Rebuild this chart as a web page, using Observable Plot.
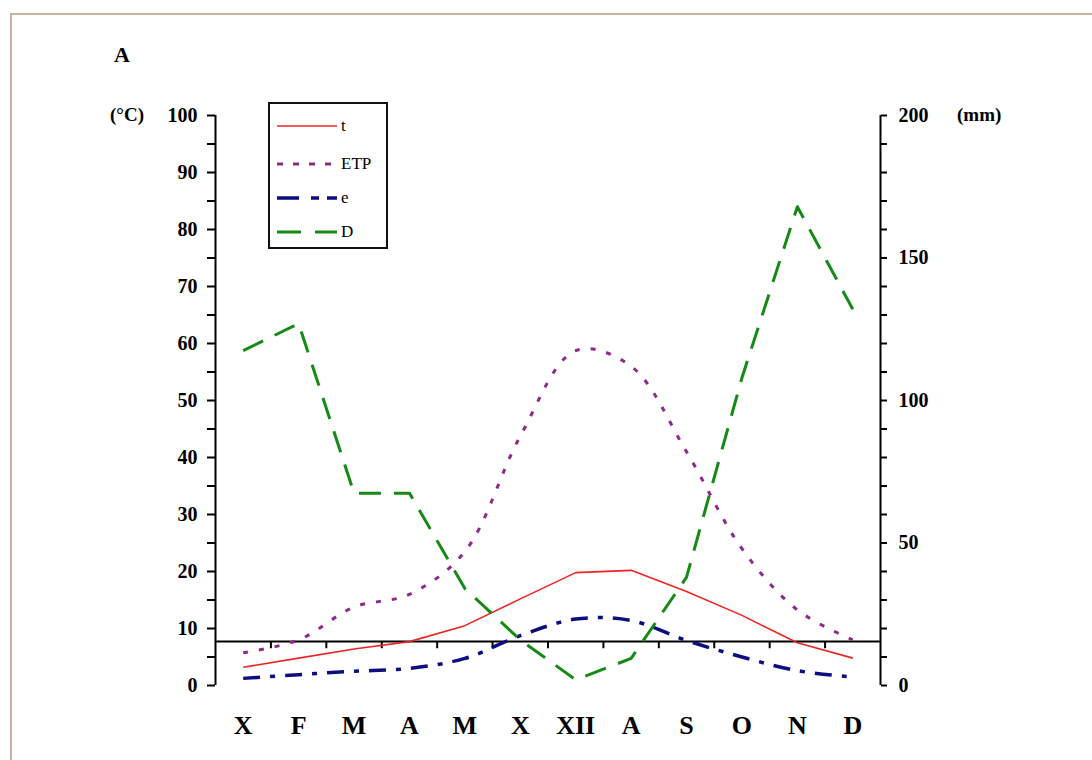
<!DOCTYPE html>
<html>
<head>
<meta charset="utf-8">
<script src="https://cdn.jsdelivr.net/npm/d3@7"></script>
<script src="https://cdn.jsdelivr.net/npm/@observablehq/plot@0.6"></script>
<style>
  body { margin: 0; background: #fff; }
  #wrap { position: relative; width: 1092px; height: 760px; overflow: hidden; background: #fff;
          font-family: "Liberation Serif", "DejaVu Serif", serif; }
  #frame { position: absolute; left: 10px; top: 13px; width: 1300px; height: 900px;
           border-left: 2px solid #c9b3a5; border-top: 2px solid #c9b3a5; }
  #chart { position: absolute; left: 0; top: 0; }
  .lbl { position: absolute; font-weight: bold; color: #000; white-space: nowrap; line-height: 1; }
  #legend { position: absolute; left: 268px; top: 102px; width: 116px; height: 143px;
            border: 2px solid #111; background: #fff; }
  .entry { position: absolute; left: 5px; height: 20px; }
  .entry svg { position: absolute; left: 0; top: 0; }
  .entry span { position: absolute; left: 66px; top: 0; font-size: 17px; line-height: 20px; color: #000; }
</style>
</head>
<body>
<div id="wrap">
  <div id="frame"></div>
  <div id="chart"></div>
  <div class="lbl" style="left:114px;top:44px;font-size:22px;">A</div>
  <div class="lbl" style="left:110px;top:105px;font-size:19px;">(°C)</div>
  <div class="lbl" style="left:957px;top:105px;font-size:19px;">(mm)</div>
  <div id="legend"></div>
</div>
<script>
// ---- data ----
const months = ["X", "F", "M", "A", "M", "X", "XII", "A", "S", "O", "N", "D"];
const tValues   = [3.2, 4.8, 6.4, 7.7, 10.5, 15.2, 19.8, 20.2, 16.5, 12.3, 7.5, 4.8];      // °C
const etpValues = [11.5, 16, 27.5, 32, 47, 87.5, 117.5, 112, 82, 48, 26.5, 16];           // mm
const eValues   = [2.5, 3.8, 5, 6, 9.5, 17.5, 23.3, 22.8, 15.8, 10, 5.2, 3];              // mm
const dValues   = [117.5, 127, 67.5, 67.5, 34, 16, 2, 9.5, 38, 108, 168, 132];            // mm
const leftTicks  = d3.range(0, 101, 5);   // °C
const rightLabels = [0, 50, 100, 150, 200]; // mm
const mmPerDegree = 2;                     // 200 mm <-> 100 °C
const crossValue = 7.7;                    // °C where the month axis line sits

const rows = months.map((m, i) => ({
  i, month: m,
  t: tValues[i],
  etp: etpValues[i] / mmPerDegree,
  e: eValues[i] / mmPerDegree,
  d: dValues[i] / mmPerDegree
}));

const series = [
  {key: "t",   label: "t",   stroke: "#ee2424", width: 1.6, dash: null,          curve: "linear"},
  {key: "etp", label: "ETP", stroke: "#8a2a8c", width: 3,   dash: "5,11",        curve: "catmull-rom"},
  {key: "e",   label: "e",   stroke: "#0d0d80", width: 3.5, dash: "17,10,5,10",  curve: "catmull-rom"},
  {key: "d",   label: "D",   stroke: "#168a16", width: 3,   dash: "22,13",       curve: "linear"}
];

const boundaries = d3.range(0.5, months.length - 1, 1);

const plot = Plot.plot({
  width: 1092,
  height: 760,
  marginLeft: 215,
  marginRight: 212,
  marginTop: 115,
  marginBottom: 75,
  style: {background: "transparent", fontFamily: "'Liberation Serif', serif", color: "#000"},
  x: {type: "linear", domain: [-0.5, months.length - 0.5]},
  y: {domain: [0, 100]},
  marks: [
    // month baseline and its boundary ticks
    Plot.ruleY([crossValue], {stroke: "#000", strokeWidth: 2}),
    Plot.ruleX(boundaries, {x: d => d, y1: crossValue, y2: crossValue - 1.25, stroke: "#000", strokeWidth: 2}),
    // axis lines
    Plot.ruleX([-0.5, months.length - 0.5], {stroke: "#000", strokeWidth: 2}),
    // series
    ...series.map(s => Plot.line(rows, {
      x: "i", y: s.key, stroke: s.stroke, strokeWidth: s.width,
      strokeDasharray: s.dash, curve: s.curve, strokeLinecap: "butt"
    })),
    // left axis (°C)
    Plot.axisY({
      anchor: "left", ticks: leftTicks, tickSize: 8, tickPadding: 10, strokeWidth: 2,
      tickFormat: d => d % 10 === 0 ? d : "",
      fontSize: 20, fontWeight: "bold", label: null
    }),
    // right axis (mm)
    Plot.axisY({
      anchor: "right", ticks: leftTicks, tickSize: 6, tickPadding: 12, strokeWidth: 2,
      tickFormat: d => rightLabels.includes(d * mmPerDegree) ? d * mmPerDegree : "",
      fontSize: 20, fontWeight: "bold", label: null
    }),
    // month labels
    Plot.axisX({
      ticks: d3.range(months.length), tickSize: 0, tickPadding: 30,
      tickFormat: i => months[i], fontSize: 26, fontWeight: "bold", label: null
    })
  ]
});
document.getElementById("chart").appendChild(plot);

// legend built from the series definitions
const legend = document.getElementById("legend");
const entryTops = [12, 50, 84, 118];
series.forEach((s, k) => {
  const div = document.createElement("div");
  div.className = "entry";
  div.style.top = entryTops[k] + "px";
  const svg = d3.create("svg").attr("width", 62).attr("height", 20);
  svg.append("line").attr("x1", 2).attr("x2", 62).attr("y1", 10).attr("y2", 10)
    .attr("stroke", s.stroke).attr("stroke-width", s.width)
    .attr("stroke-dasharray", s.dash ? (s.key === "d" ? "24,14" : s.key === "e" ? "22,12,8,8" : "6,10") : null);
  div.appendChild(svg.node());
  const span = document.createElement("span");
  span.textContent = s.label;
  div.appendChild(span);
  legend.appendChild(div);
});
</script>
</body>
</html>
